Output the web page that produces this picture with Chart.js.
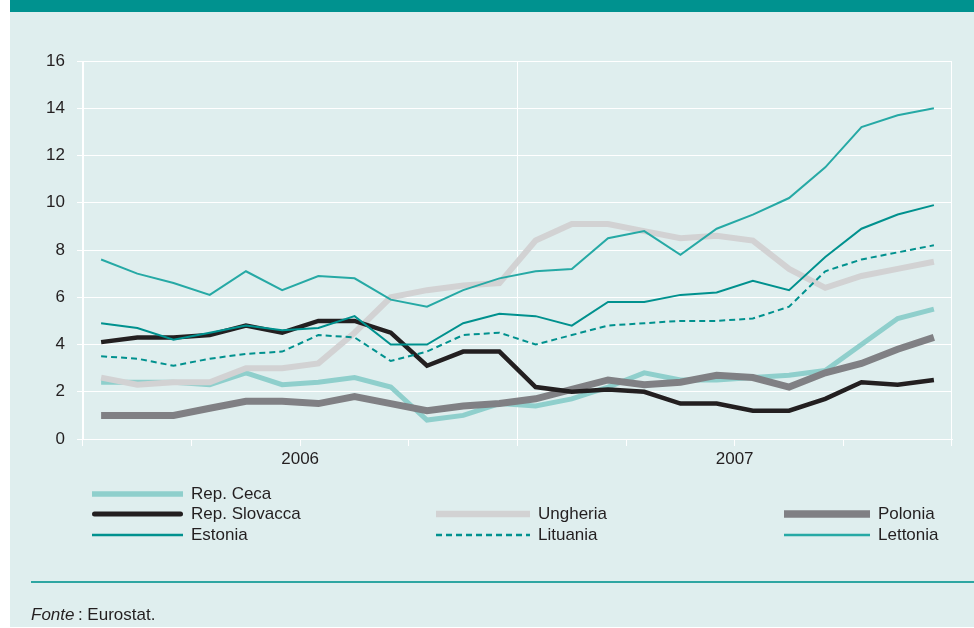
<!DOCTYPE html>
<html lang="it">
<head>
<meta charset="utf-8">
<script src="https://cdn.jsdelivr.net/npm/chart.js@4.4.1/dist/chart.umd.min.js"></script>
<style>
  body { margin: 0; background: #fff; font-family: "Liberation Sans", Arial, sans-serif; color: #231f20; }
  #panel { position: absolute; left: 10px; top: 0; width: 964px; height: 627px; background: #dfeeee; }
  #header { position: absolute; left: 10px; top: 0; width: 964px; height: 12px; background: #00928f; }
  #chart { position: absolute; left: 0; top: 0; }
  #legend { position: absolute; left: 0; top: 0; }
  .item { position: absolute; display: flex; align-items: center; height: 20px; font-size: 17px; white-space: nowrap; }
  .item svg { margin-right: 8px; }
  #rule { position: absolute; left: 31px; top: 581px; width: 943px; height: 2px; background: #2ea6a2; }
  #source { position: absolute; left: 31px; top: 605px; font-size: 17px; }
</style>
</head>
<body>
<div id="panel"></div>
<div id="header"></div>
<canvas id="chart" width="974" height="628"></canvas>
<div id="legend"></div>
<div id="rule"></div>
<div id="source"><i>Fonte</i>&#8201;: Eurostat.</div>
<script>
    const monthNames = ['gen','feb','mar','apr','mag','giu','lug','ago','set','ott','nov','dic'];
    const years = ['2006', '2007'];
    const months = years.flatMap(y => monthNames.map(m => `${m} ${y}`));

    // variazioni percentuali sui 12 mesi
    const repCeca     = [2.4, 2.4, 2.4, 2.3, 2.8, 2.3, 2.4, 2.6, 2.2, 0.8, 1.0, 1.5, 1.4, 1.7, 2.2, 2.8, 2.5, 2.5, 2.6, 2.7, 2.9, 4.0, 5.1, 5.5];
    const repSlovacca = [4.1, 4.3, 4.3, 4.4, 4.8, 4.5, 5.0, 5.0, 4.5, 3.1, 3.7, 3.7, 2.2, 2.0, 2.1, 2.0, 1.5, 1.5, 1.2, 1.2, 1.7, 2.4, 2.3, 2.5];
    const ungheria    = [2.6, 2.3, 2.4, 2.4, 3.0, 3.0, 3.2, 4.5, 6.0, 6.3, 6.5, 6.6, 8.4, 9.1, 9.1, 8.8, 8.5, 8.6, 8.4, 7.2, 6.4, 6.9, 7.2, 7.5];
    const polonia     = [1.0, 1.0, 1.0, 1.3, 1.6, 1.6, 1.5, 1.8, 1.5, 1.2, 1.4, 1.5, 1.7, 2.1, 2.5, 2.3, 2.4, 2.7, 2.6, 2.2, 2.8, 3.2, 3.8, 4.3];
    const estonia     = [4.9, 4.7, 4.2, 4.5, 4.8, 4.6, 4.7, 5.2, 4.0, 4.0, 4.9, 5.3, 5.2, 4.8, 5.8, 5.8, 6.1, 6.2, 6.7, 6.3, 7.7, 8.9, 9.5, 9.9];
    const lituania    = [3.5, 3.4, 3.1, 3.4, 3.6, 3.7, 4.4, 4.3, 3.3, 3.7, 4.4, 4.5, 4.0, 4.4, 4.8, 4.9, 5.0, 5.0, 5.1, 5.6, 7.1, 7.6, 7.9, 8.2];
    const lettonia    = [7.6, 7.0, 6.6, 6.1, 7.1, 6.3, 6.9, 6.8, 5.9, 5.6, 6.3, 6.8, 7.1, 7.2, 8.5, 8.8, 7.8, 8.9, 9.5, 10.2, 11.5, 13.2, 13.7, 14.0];

    const yTicks = [0, 2, 4, 6, 8, 10, 12, 14, 16];

    const series = [
        { label: 'Rep. Ceca',     data: repCeca,     color: '#8fcfcc', width: 5,   order: 6, leg: [92, 494, 91]  },
        { label: 'Rep. Slovacca', data: repSlovacca, color: '#231f20', width: 4.5, order: 3, leg: [92, 514, 91], cap: 'round' },
        { label: 'Ungheria',      data: ungheria,    color: '#d2d2d3', width: 6,   order: 5, leg: [436, 514, 94] },
        { label: 'Polonia',       data: polonia,     color: '#808084', width: 7,   order: 4, leg: [784, 514, 86] },
        { label: 'Estonia',       data: estonia,     color: '#00918e', width: 2,   order: 1, leg: [92, 535, 91]  },
        { label: 'Lituania',      data: lituania,    color: '#00918e', width: 2,   order: 2, leg: [436, 535, 94], dash: [6, 4] },
        { label: 'Lettonia',      data: lettonia,    color: '#26a9a5', width: 2,   order: 0, leg: [784, 535, 86] },
    ];

    const white = '#ffffff';
    const font = { family: '"Liberation Sans", Arial, sans-serif', size: 17 };

    new Chart(document.getElementById('chart'), {
        type: 'line',
        data: {
            labels: months,
            datasets: series.map(s => ({
                label: s.label,
                data: s.data,
                borderColor: s.color,
                borderWidth: s.width,
                borderDash: s.dash || [],
                pointRadius: 0,
                tension: 0,
                order: s.order,
            })),
        },
        options: {
            responsive: false,
            animation: false,
            layout: { padding: { top: 61, right: 22, bottom: 159, left: 0 } },
            plugins: { legend: { display: false }, tooltip: { enabled: false } },
            scales: {
                x: {
                    offset: true,
                    afterFit: s => { s.height = 30; },
                    border: { color: white, width: 1 },
                    grid: {
                        offset: true,
                        tickLength: 7,
                        color: c => ((c.index ?? 24) % 12 === 0 ? white : 'rgba(0,0,0,0)'),
                        tickColor: c => ((c.index ?? 24) % 3 === 0 ? white : 'rgba(0,0,0,0)'),
                    },
                    ticks: {
                        autoSkip: false,
                        maxRotation: 0,
                        padding: 3,
                        labelOffset: 18,
                        color: '#231f20',
                        font,
                        callback: (v, i) => (i % 12 === 5 ? months[i].split(' ')[1] : ''),
                    },
                },
                y: {
                    min: yTicks[0],
                    max: yTicks[yTicks.length - 1],
                    afterFit: s => { s.width = 83; },
                    afterBuildTicks: s => { s.ticks = yTicks.map(v => ({ value: v })); },
                    border: { color: white, width: 1 },
                    grid: { color: white, lineWidth: 1, tickLength: 6 },
                    ticks: { padding: 12, color: '#231f20', font },
                },
            },
        },
    });

    // legenda su tre colonne
    const legend = document.getElementById('legend');
    for (const s of series) {
        const [x, y, w] = s.leg;
        const item = document.createElement('div');
        item.className = 'item';
        item.style.left = x + 'px';
        item.style.top = (y - 10) + 'px';
        const lw = s.width < 3 ? 2.5 : s.width + 0.5;
        const cap = s.cap || 'butt';
        const pad = cap === 'round' ? lw / 2 : 0;
        item.innerHTML =
            `<svg width="${w}" height="20"><line x1="${pad}" y1="10" x2="${w - pad}" y2="10" stroke="${s.color}" ` +
            `stroke-width="${lw}" stroke-linecap="${cap}" ${s.dash ? `stroke-dasharray="${s.dash.join(' ')}"` : ''}/></svg>` +
            `<span>${s.label}</span>`;
        legend.appendChild(item);
    }
</script>
</body>
</html>
